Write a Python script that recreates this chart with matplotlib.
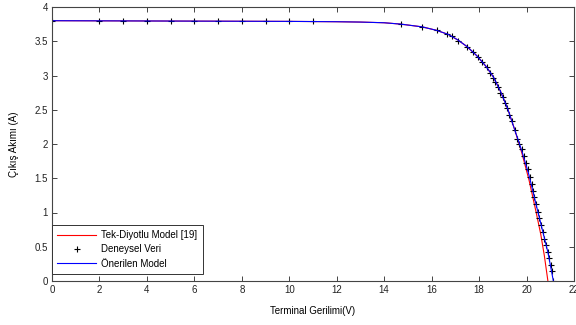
import matplotlib
matplotlib.use("Agg")
import matplotlib.pyplot as plt

plt.rcParams['font.family'] = ['Liberation Sans', 'DejaVu Sans']

# Deneysel veri (measured points)
vExp = [0, 2, 3, 4, 5, 6, 7, 8, 9, 10, 11,
        14.71, 15.60, 16.21, 16.66, 16.87, 17.12, 17.48, 17.73, 17.94, 18.13,
        18.32, 18.46, 18.57, 18.68, 18.80, 18.90, 19.00, 19.08, 19.16, 19.25,
        19.37, 19.50, 19.60, 19.69, 19.79, 19.90, 19.96, 20.07, 20.14, 20.21,
        20.26, 20.32, 20.40, 20.47, 20.54, 20.61, 20.68, 20.75, 20.82, 20.89,
        20.94, 21.02, 21.06, 21.13]
iExp = [3.80, 3.80, 3.80, 3.80, 3.80, 3.79, 3.79, 3.79, 3.79, 3.79, 3.79,
        3.75, 3.71, 3.66, 3.61, 3.57, 3.51, 3.42, 3.35, 3.27, 3.20,
        3.12, 3.03, 2.97, 2.91, 2.83, 2.75, 2.68, 2.60, 2.52, 2.43,
        2.33, 2.20, 2.08, 2.00, 1.92, 1.82, 1.72, 1.63, 1.52, 1.42,
        1.32, 1.23, 1.12, 1.01, 0.92, 0.82, 0.72, 0.62, 0.53, 0.43,
        0.33, 0.23, 0.14, 0.0]

# Tek-diyotlu model [19]
vRed = [0, 5, 10, 12, 13, 14, 14.7, 15.6, 16.2, 16.7, 17.1, 17.5, 17.9,
        18.3, 18.6, 18.9, 19.2, 19.5, 19.8, 20.1, 20.4, 20.6, 20.75, 20.9]
iRed = [3.80, 3.795, 3.79, 3.785, 3.78, 3.77, 3.75, 3.71, 3.66, 3.60, 3.52, 3.42, 3.29,
        3.13, 2.98, 2.77, 2.52, 2.21, 1.87, 1.48, 1.01, 0.68, 0.37, 0.0]

# Önerilen model
vBlue = [0, 5, 10, 12, 13, 14, 14.7, 15.6, 16.2, 16.7, 17.1, 17.5, 17.9,
         18.3, 18.6, 18.9, 19.2, 19.5, 19.8, 20.1, 20.4, 20.7, 20.9, 21.13]
iBlue = [3.80, 3.795, 3.79, 3.785, 3.78, 3.77, 3.75, 3.71, 3.66, 3.60, 3.52, 3.42, 3.29,
         3.13, 2.98, 2.77, 2.52, 2.21, 1.90, 1.55, 1.12, 0.70, 0.42, 0.0]

fontsize = 7
axcol = '#444444'

fig = plt.figure(figsize=(5.76, 3.25), dpi=100)
ax = fig.add_axes([52/576, 1-281/325, (574-52)/576, (281-7)/325])
ax.plot(vRed, iRed, color='red', lw=0.8, label='Tek-Diyotlu Model [19]')
ax.plot(vExp, iExp, '+', color='black', ms=5, mew=0.8, label='Deneysel Veri')
ax.plot(vBlue, iBlue, color='blue', lw=0.8, label='Önerilen Model')

ax.set_xlim([0, 22])
ax.set_ylim([0, 4])
ax.set_xticks(range(0, 23, 2))
ax.set_yticks([0, 0.5, 1, 1.5, 2, 2.5, 3, 3.5, 4])
ax.set_yticklabels(['0', '0.5', '1', '1.5', '2', '2.5', '3', '3.5', '4'])
ax.tick_params(direction='in', top=True, right=True, length=3.5, width=0.7,
               labelsize=fontsize, colors=axcol, labelcolor='#222222', pad=3)
for s in ax.spines.values():
    s.set_color(axcol)
    s.set_linewidth(0.8)

ax.set_xlabel('Terminal Gerilimi(V)', fontsize=fontsize, labelpad=8)
ax.set_ylabel('Çıkış Akımı (A)', fontsize=fontsize, labelpad=11)

leg = ax.legend(loc='lower left', bbox_to_anchor=(0, 7/274), fontsize=fontsize,
                fancybox=False, framealpha=1, edgecolor='#333333',
                borderaxespad=0, handlelength=4.0, handletextpad=0.5,
                labelspacing=0.45, borderpad=0.55)
leg.get_frame().set_linewidth(0.7)

fig.savefig('out.png', dpi=100)
plt.close()
